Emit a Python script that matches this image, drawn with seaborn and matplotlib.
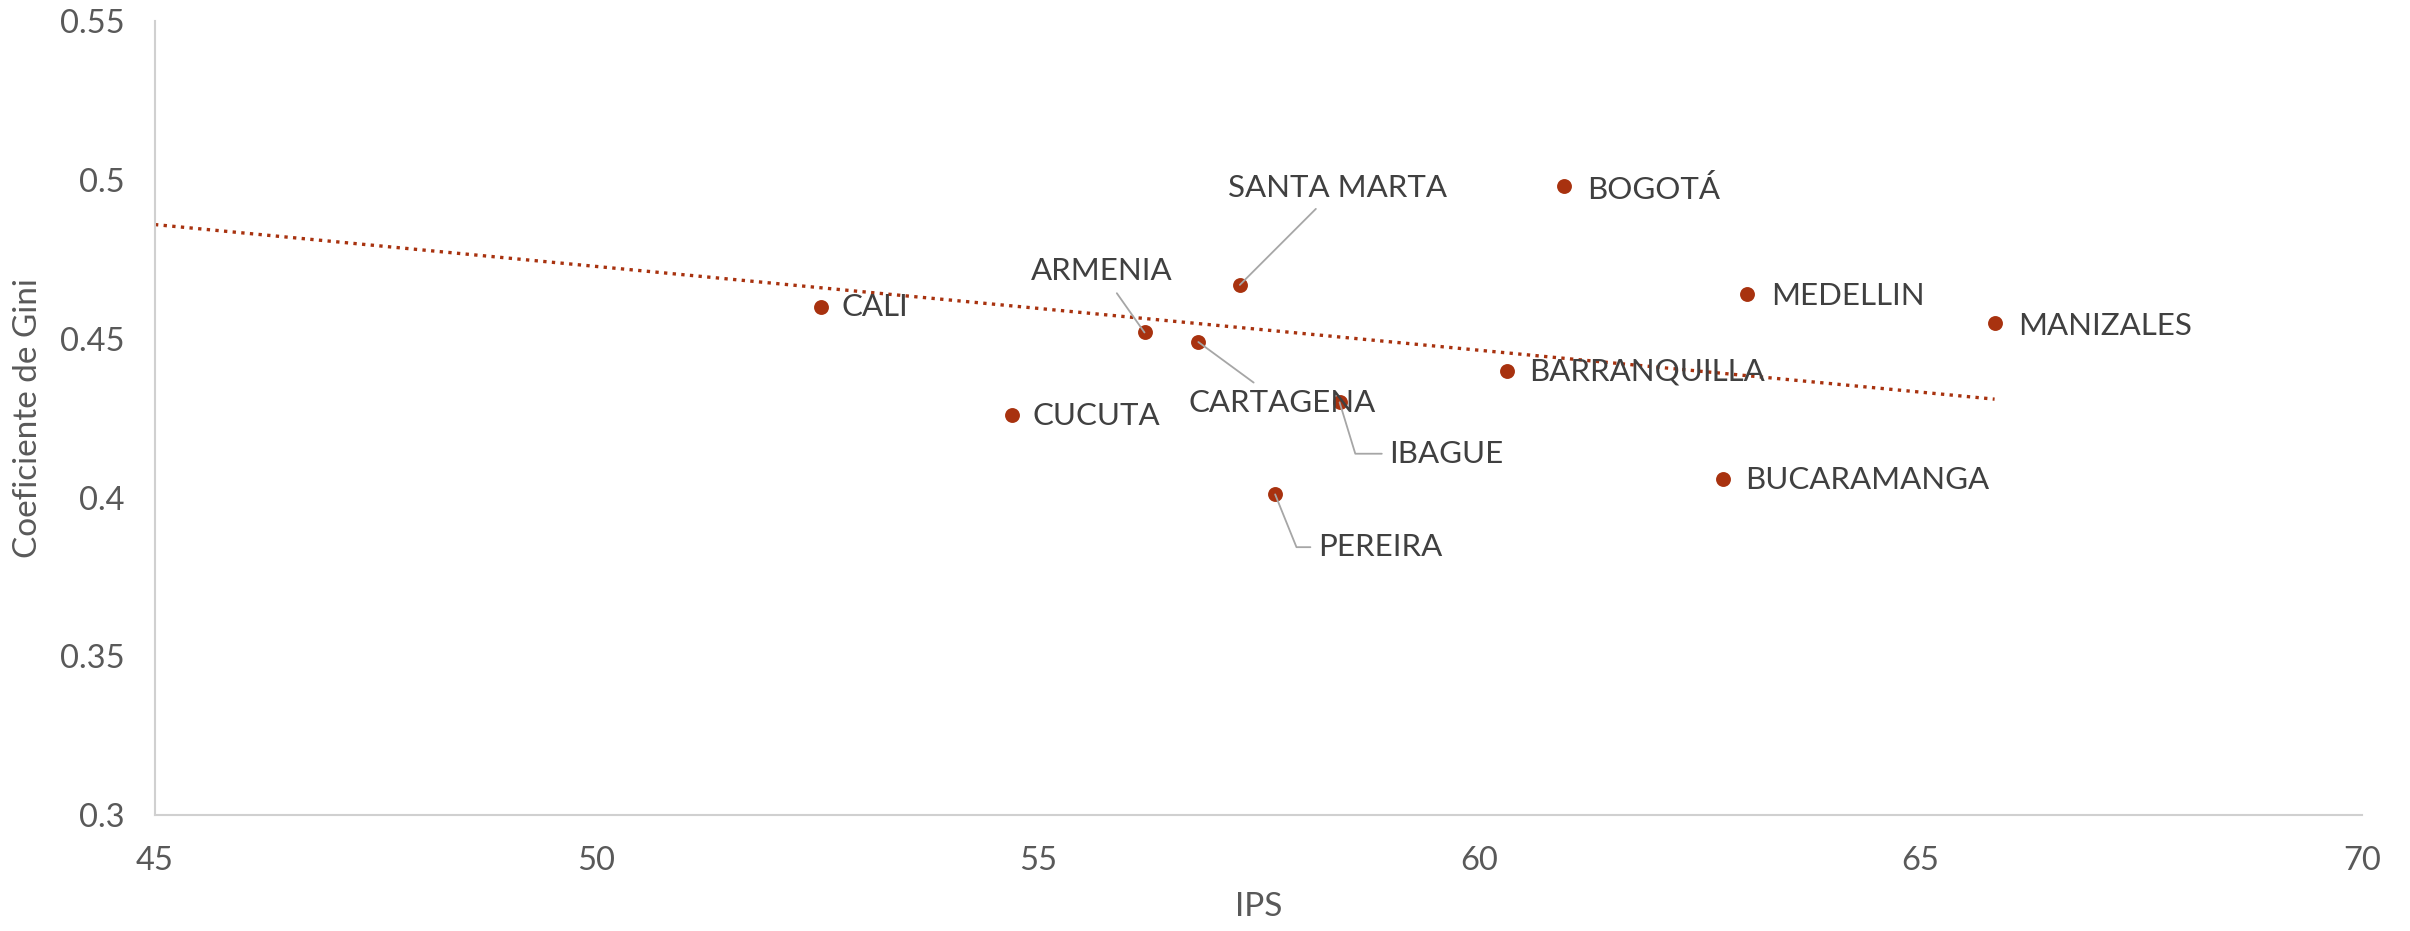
import pandas as pd
import matplotlib

matplotlib.use("Agg")
import matplotlib.pyplot as plt
import seaborn as sns

# data
cities = ["CALI", "CUCUTA", "ARMENIA", "CARTAGENA", "SANTA MARTA", "PEREIRA",
          "IBAGUE", "BARRANQUILLA", "BOGOTÁ", "BUCARAMANGA", "MEDELLIN", "MANIZALES"]
ips = [52.54, 54.71, 56.21, 56.82, 57.29, 57.69, 58.42, 60.32, 60.96, 62.76, 63.04, 65.84]
gini = [0.460, 0.426, 0.452, 0.449, 0.467, 0.401, 0.430, 0.440, 0.498, 0.406, 0.464, 0.455]

# dotted trendline as drawn in the chart (ends)
trend_ips = [45, 65.84]
trend_gini = [0.486, 0.431]

x_ticks = [45, 50, 55, 60, 65, 70]
y_ticks = [0.3, 0.35, 0.4, 0.45, 0.5, 0.55]
y_tick_labels = ["0.3", "0.35", "0.4", "0.45", "0.5", "0.55"]

# label placement (offset in points from the marker) and leader style
label_pos = {
    "CALI": ((15, 0), "left", None),
    "CUCUTA": ((15, -1), "left", None),
    "BARRANQUILLA": ((16, -1), "left", None),
    "BOGOTÁ": ((17, -2), "left", None),
    "BUCARAMANGA": ((16, -1), "left", None),
    "MEDELLIN": ((17, -1), "left", None),
    "MANIZALES": ((17, -2), "left", None),
    "ARMENIA": ((-31, 44), "center", "straight"),
    "SANTA MARTA": ((70, 70), "center", "straight"),
    "CARTAGENA": ((60, -44), "center", "straight"),
    "IBAGUE": ((36, -37), "left", -73),
    "PEREIRA": ((31, -38), "left", -68),
}

RED = "#a8320f"
GREY_TXT = "#404040"
GREY_AX = "#595959"

df = pd.DataFrame({"city": cities, "ips": ips, "gini": gini})
trend = pd.DataFrame({"ips": trend_ips, "gini": trend_gini})

sns.set_theme(style="white")
plt.rcParams["font.family"] = ["Lato", "DejaVu Sans"]

fig = plt.figure(figsize=(24.10, 9.31), dpi=100)
ax = fig.add_axes([0.0643, 0.1246, 0.9157, 0.8524])

sns.lineplot(data=trend, x="ips", y="gini", ax=ax, color=RED, lw=2.4,
             linestyle=(0, (1, 1.6)), zorder=2)

sns.scatterplot(data=df, x="ips", y="gini", ax=ax, color=RED, s=115,
                edgecolor=RED, linewidth=0, zorder=3)

for _, row in df.iterrows():
    (dx, dy), ha, leader = label_pos[row["city"]]
    kw = dict(textcoords="offset points", xytext=(dx, dy), ha=ha, va="center",
              fontsize=22.5, color=GREY_TXT, zorder=4)
    if leader == "straight":
        kw["arrowprops"] = dict(arrowstyle="-", color="#a6a6a6", lw=1.3,
                                shrinkA=4, shrinkB=0)
    elif leader is not None:
        kw["arrowprops"] = dict(arrowstyle="-", color="#a6a6a6", lw=1.3,
                                shrinkA=0, shrinkB=0, relpos=(0, 0.5),
                                connectionstyle=f"angle,angleA=0,angleB={leader},rad=0")
        kw["bbox"] = dict(boxstyle="square,pad=0.25", fc="none", ec="none")
    ax.annotate(row["city"], xy=(row["ips"], row["gini"]), **kw)

ax.set_xlim(x_ticks[0], x_ticks[-1])
ax.set_ylim(y_ticks[0], y_ticks[-1])
ax.set_xticks(x_ticks)
ax.set_yticks(y_ticks)
ax.set_yticklabels(y_tick_labels)
ax.tick_params(axis="both", length=0, labelsize=23.5, labelcolor=GREY_AX, pad=22)

ax.set_xlabel("IPS", fontsize=24, color=GREY_AX, labelpad=12)
ax.set_ylabel("Coeficiente de Gini", fontsize=24, color=GREY_AX, labelpad=12)

for side in ("top", "right"):
    ax.spines[side].set_visible(False)
for side in ("left", "bottom"):
    ax.spines[side].set_color("#d0d0d0")
    ax.spines[side].set_linewidth(1.5)

fig.savefig("out.png", dpi=100)
